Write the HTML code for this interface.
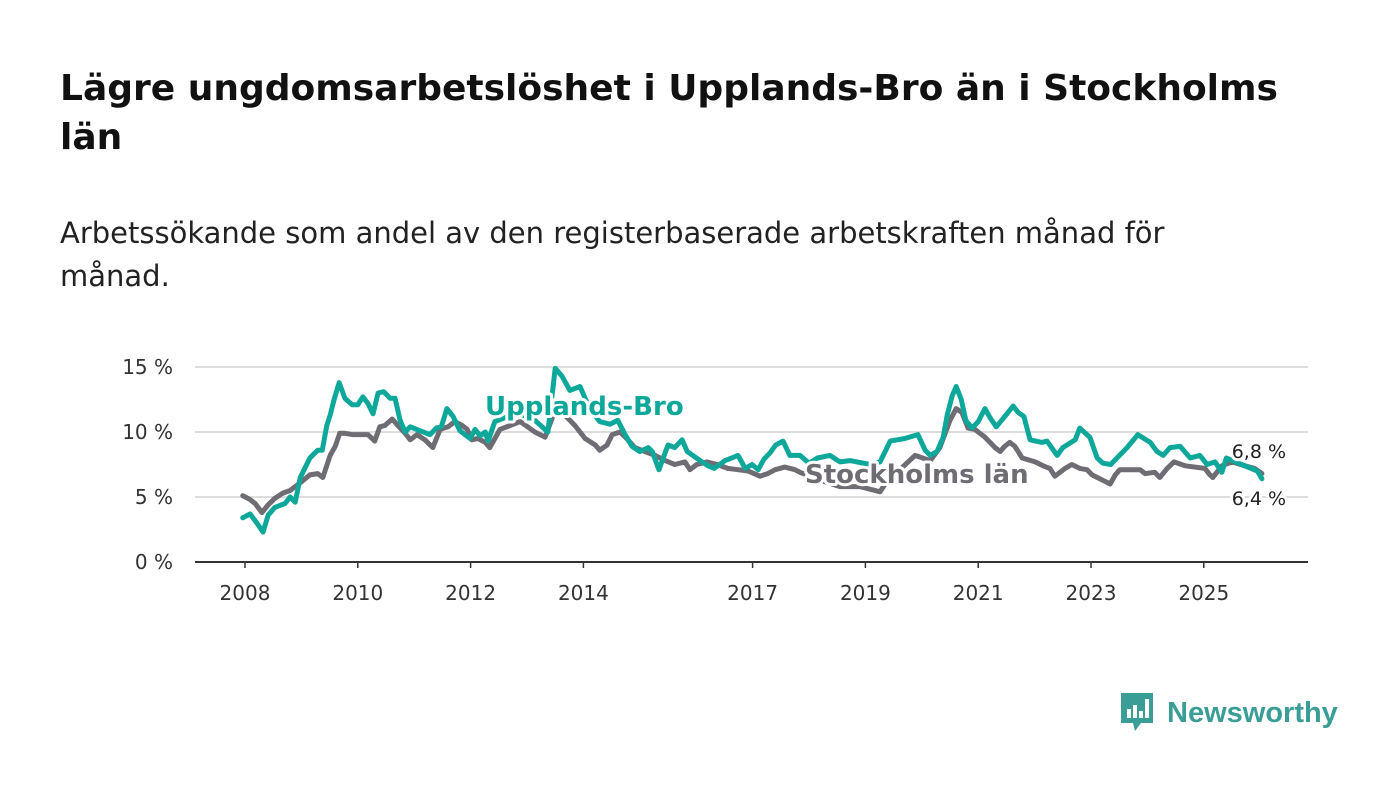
<!DOCTYPE html>
<html><head><meta charset="utf-8">
<style>
body{margin:0;width:1400px;height:794px;background:#fff;font-family:"DejaVu Sans","Liberation Sans",sans-serif;overflow:hidden}
#title{position:absolute;left:60px;top:64px;width:1250px;font-size:36px;font-weight:bold;line-height:49px;color:#111}
#sub{position:absolute;left:60px;top:212px;width:1180px;font-size:29px;line-height:43px;color:#222}
svg{position:absolute;left:0;top:0}
</style></head><body>
<div id="title">Lägre ungdomsarbetslöshet i Upplands-Bro än i Stockholms län</div>
<div id="sub">Arbetssökande som andel av den registerbaserade arbetskraften månad för månad.</div>
<svg id="chart" width="1400" height="794"></svg>
<div style="position:absolute;left:1119px;top:691px;display:flex;align-items:center">
<svg width="36" height="44" style="position:static"><path d="M2 2h32v30H22l-6 8-2-8H2z" fill="#3a9d96"/><rect x="8" y="18" width="4" height="9" fill="#fff"/><rect x="14" y="14" width="4" height="13" fill="#fff"/><rect x="20" y="20" width="4" height="7" fill="#fff"/><rect x="26" y="8" width="4" height="19" fill="#fff"/></svg>
<span style="font-family:'Liberation Sans',sans-serif;font-size:29px;color:#3a9d96;margin-left:12px;font-weight:bold">Newsworthy</span></div>
<script>
const xTicks=[2008,2010,2012,2014,2017,2019,2021,2023,2025];
const yTicks=[0,5,10,15];
const ubDates=[2007.96,2008.09,2008.21,2008.32,2008.41,2008.53,2008.71,2008.80,2008.89,2008.98,2009.15,2009.29,2009.37,2009.45,2009.51,2009.58,2009.67,2009.77,2009.90,2010.00,2010.09,2010.18,2010.27,2010.36,2010.46,2010.57,2010.66,2010.75,2010.84,2010.93,2011.10,2011.28,2011.39,2011.48,2011.58,2011.69,2011.81,2011.99,2012.08,2012.17,2012.26,2012.31,2012.43,2012.61,2012.88,2013.14,2013.37,2013.50,2013.62,2013.76,2013.94,2014.12,2014.29,2014.47,2014.61,2014.74,2014.86,2015.00,2015.15,2015.22,2015.34,2015.50,2015.62,2015.75,2015.84,2015.94,2016.07,2016.21,2016.32,2016.51,2016.63,2016.74,2016.87,2016.99,2017.10,2017.20,2017.31,2017.41,2017.54,2017.66,2017.84,2018.00,2018.15,2018.37,2018.55,2018.73,2019.08,2019.26,2019.44,2019.70,2019.93,2020.06,2020.15,2020.27,2020.38,2020.45,2020.54,2020.61,2020.70,2020.78,2020.89,2021.00,2021.12,2021.21,2021.32,2021.51,2021.62,2021.71,2021.81,2021.92,2022.13,2022.22,2022.40,2022.50,2022.72,2022.80,2022.98,2023.11,2023.21,2023.35,2023.46,2023.64,2023.83,2024.05,2024.17,2024.28,2024.40,2024.58,2024.76,2024.93,2025.06,2025.20,2025.32,2025.40,2025.78,2025.95,2026.03];
const ubValues=[3.4,3.7,3.0,2.3,3.6,4.2,4.5,5.0,4.6,6.5,8.0,8.6,8.6,10.5,11.3,12.5,13.8,12.6,12.1,12.1,12.7,12.2,11.4,13.0,13.1,12.6,12.6,10.9,10.0,10.4,10.1,9.8,10.3,10.4,11.8,11.2,10.1,9.5,10.2,9.7,10.0,9.3,10.8,11.1,11.4,10.9,10.0,14.9,14.3,13.2,13.5,11.7,10.8,10.6,10.9,9.8,8.9,8.5,8.8,8.5,7.1,9.0,8.8,9.4,8.5,8.2,7.8,7.4,7.2,7.8,8.0,8.2,7.2,7.5,7.1,7.9,8.4,9.0,9.3,8.2,8.2,7.6,8.0,8.2,7.7,7.8,7.5,7.7,9.3,9.5,9.8,8.6,8.2,8.5,9.6,11.3,12.8,13.5,12.5,10.9,10.3,10.8,11.8,11.1,10.4,11.4,12.0,11.5,11.2,9.4,9.2,9.3,8.2,8.8,9.4,10.3,9.6,8.0,7.6,7.5,8.0,8.8,9.8,9.2,8.5,8.2,8.8,8.9,8.0,8.2,7.5,7.7,6.9,8.0,7.3,7.0,6.4];
const stDates=[2007.96,2008.09,2008.18,2008.30,2008.41,2008.53,2008.67,2008.80,2008.98,2009.15,2009.29,2009.38,2009.51,2009.60,2009.68,2009.77,2009.90,2010.04,2010.18,2010.30,2010.39,2010.48,2010.61,2010.71,2010.84,2010.93,2011.05,2011.19,2011.33,2011.46,2011.60,2011.72,2011.85,2011.94,2012.02,2012.13,2012.26,2012.34,2012.52,2012.70,2012.88,2013.14,2013.32,2013.50,2013.67,2013.85,2014.03,2014.21,2014.29,2014.42,2014.51,2014.65,2014.79,2014.91,2015.09,2015.27,2015.45,2015.62,2015.80,2015.89,2016.01,2016.19,2016.37,2016.56,2016.74,2016.92,2017.13,2017.27,2017.40,2017.57,2017.75,2017.84,2018.19,2018.55,2018.90,2019.26,2019.35,2019.61,2019.88,2020.15,2020.32,2020.50,2020.61,2020.71,2020.82,2020.94,2021.12,2021.30,2021.39,2021.47,2021.56,2021.65,2021.78,2022.01,2022.15,2022.27,2022.36,2022.45,2022.54,2022.66,2022.80,2022.93,2023.02,2023.11,2023.25,2023.34,2023.43,2023.51,2023.87,2023.96,2024.13,2024.22,2024.35,2024.47,2024.67,2025.02,2025.11,2025.16,2025.32,2025.50,2025.73,2025.90,2026.03];
const stValues=[5.1,4.8,4.5,3.8,4.4,4.9,5.3,5.5,6.1,6.7,6.8,6.5,8.2,8.9,9.9,9.9,9.8,9.8,9.8,9.3,10.4,10.5,11.0,10.5,9.9,9.4,9.8,9.4,8.8,10.2,10.4,10.8,10.5,10.2,9.4,9.5,9.2,8.8,10.2,10.5,10.8,10.0,9.6,11.7,11.3,10.5,9.5,9.0,8.6,9.0,9.8,10.0,9.4,8.8,8.5,8.2,7.8,7.5,7.7,7.1,7.5,7.7,7.5,7.2,7.1,7.0,6.6,6.8,7.1,7.3,7.1,6.9,6.3,5.8,5.8,5.4,6.0,7.1,8.2,7.8,8.8,10.9,11.8,11.5,10.3,10.2,9.6,8.8,8.5,8.9,9.2,8.9,8.0,7.7,7.4,7.2,6.6,6.9,7.2,7.5,7.2,7.1,6.7,6.5,6.2,6.0,6.7,7.1,7.1,6.8,6.9,6.5,7.2,7.7,7.4,7.2,6.7,6.5,7.4,7.7,7.4,7.2,6.8];
const ubLast="6,4 %", stLast="6,8 %";
const NS="http://www.w3.org/2000/svg";
const svg=document.getElementById('chart');
const X=d=>245+(d-2008)*56.4;
const Y=v=>562-v*13;
function el(t,a){const e=document.createElementNS(NS,t);for(const k in a)e.setAttribute(k,a[k]);svg.appendChild(e);return e;}
yTicks.forEach(v=>{
  const g=el('line',{x1:195,x2:1308,y1:Y(v),y2:Y(v),stroke:v===0?'#333':'#ddd','stroke-width':2});
  
  
  const t=el('text',{x:173,y:Y(v)+7,'text-anchor':'end','font-size':20,fill:'#333'});
  t.textContent=v+' %';
  
  
});
xTicks.forEach(y=>{
  const tk=el('line',{x1:X(y),x2:X(y),y1:562,y2:568,stroke:'#333','stroke-width':1.5});
  
  
  const t=el('text',{x:X(y),y:600,'text-anchor':'middle','font-size':20,fill:'#333'});
  t.textContent=y;
  
  
});
function line(d,v,c,name){
  const p=el('polyline',{points:d.map((x,i)=>X(x)+','+Y(v[i])).join(' '),fill:'none',stroke:c,'stroke-width':5,'stroke-linejoin':'round','stroke-linecap':'round'});
  
  
}
line(stDates,stValues,'#6f6c73','line-stockholms-lan');
line(ubDates,ubValues,'#0da89a','line-upplands-bro');
function label(x,y,txt,c,size,w,name,anchor){
  const t=el('text',{x:x,y:y,'font-size':size,'font-weight':w,fill:c,stroke:'#fff','stroke-width':6,'paint-order':'stroke','stroke-linejoin':'round','text-anchor':anchor||'start'});
  t.textContent=txt;
  
  
}
label(485,415,'Upplands-Bro','#0da89a',26,'bold','series-label-upplands-bro');
label(805,483,'Stockholms län','#6f6c73',26,'bold','series-label-stockholms-lan');
label(1286,458,stLast,'#222',19,'normal','end-value-stockholms','end');
label(1286,505,ubLast,'#222',19,'normal','end-value-upplands','end');
</script>
</body></html>
